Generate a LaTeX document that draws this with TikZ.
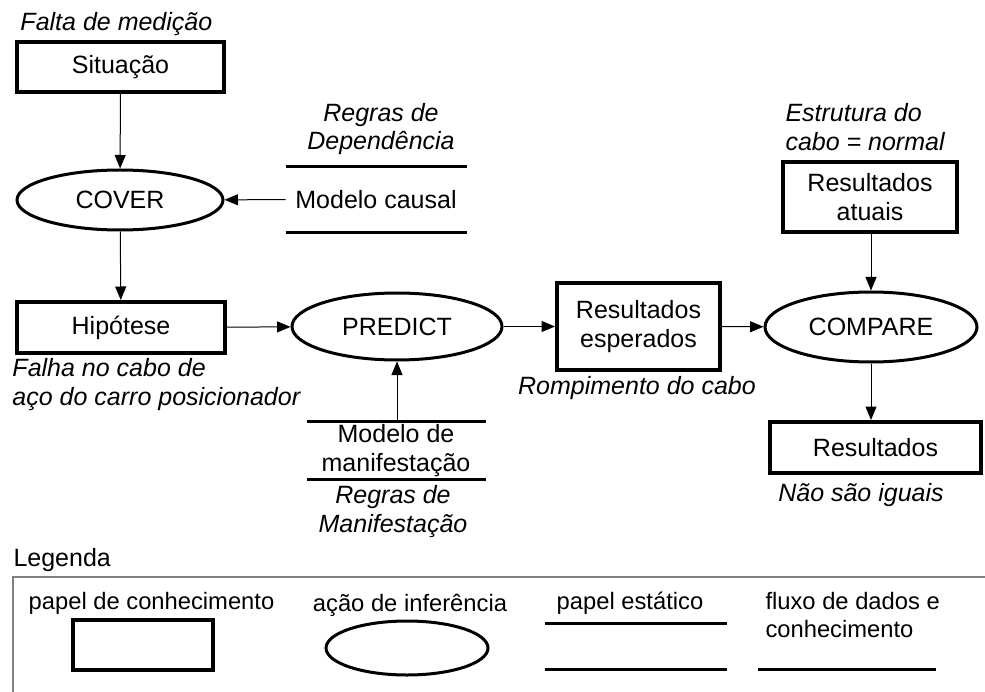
\documentclass[tikz,border=0pt]{standalone}
\usepackage{fontspec}
\setmainfont{Liberation Sans}
\usetikzlibrary{positioning,shapes.geometric,arrows.meta}

\begin{document}
\begin{tikzpicture}[
  x=0.4pt, y=-0.4pt,
  font=\fontsize{10}{11.4}\selectfont,
  rolestyle/.style={
        draw,
        rectangle,
        line width=1.6pt,
        inner sep=0pt,
        align=center
  },
  actionstyle/.style={
        draw,
        ellipse,
        line width=1.2pt,
        inner sep=0pt
  },
  staticstyle/.style={inner sep=0pt, align=center},
  notestyle/.style={font=\fontsize{10}{11.4}\selectfont\itshape, inner sep=0pt},
  legendstyle/.style={font=\fontsize{9.5}{11}\selectfont, inner sep=0pt},
  staticline/.style={line width=1.2pt},
  flow/.style={line width=0.4pt, -{Triangle[length=5.4pt, width=4.4pt]}}
]

    \useasboundingbox (0,0) rectangle (985,692);

    \node[rolestyle, minimum width=82.8pt, minimum height=20pt] (sit) at (120.5,67) {Situação};
    \node[notestyle, anchor=west] at (20,24) {Falta de medição};

    \node[actionstyle, minimum width=82.4pt, minimum height=24pt] (cover) at (120,200) {COVER};

    \node[rolestyle, minimum width=83.2pt, minimum height=20.4pt] (hip) at (121,327.5) {Hipótese};
    \node[notestyle, align=left, anchor=west] at (12,384.5) {Falha no cabo de\\aço do carro posicionador};

    \node[staticstyle, minimum width=72pt, minimum height=26pt] (causal) at (376,199.5) {Modelo causal};
    \node[notestyle, align=center] at (381,129) {Regras de\\Dependência};

    \node[actionstyle, minimum width=84pt, minimum height=26.8pt] (predict) at (397,326.5) {PREDICT};

    \node[staticstyle, minimum width=71.2pt, minimum height=22.8pt] (manif) at (396,450.5) {Modelo de\\manifestação};
    \node[notestyle, align=center] at (393,511.5) {Regras de\\Manifestação};

    \node[rolestyle, minimum width=65.2pt, minimum height=34.8pt] (esp) at (638.5,326.5) {Resultados\\esperados};
    \node[notestyle] at (637,388) {Rompimento do cabo};

    \node[actionstyle, minimum width=84.8pt, minimum height=28pt] (compare) at (871,327) {COMPARE};

    \node[rolestyle, minimum width=69.6pt, minimum height=28pt] (atu) at (870,197) {Resultados\\atuais};
    \node[notestyle, align=left, anchor=west] at (785,127) {Estrutura do\\cabo = normal};

    \node[rolestyle, minimum width=84.4pt, minimum height=20.4pt] (res) at (875.5,447.5) {Resultados};
    \node[notestyle] at (861,495) {Não são iguais};

    \draw[staticline] (causal.north west) -- (causal.north east);
    \draw[staticline] (causal.south west) -- (causal.south east);
    \draw[staticline] (manif.north west) -- (manif.north east);
    \draw[staticline] (manif.south west) -- (manif.south east);

    \draw[flow] (sit) -- (cover);
    \draw[flow] (causal) -- (cover);
    \draw[flow] (cover) -- (hip);
    \draw[flow] (hip) -- (predict);
    \draw[flow] (manif.north -| predict.south) -- (predict.south);
    \draw[flow] (predict) -- (esp);
    \draw[flow] (esp) -- (compare);
    \draw[flow] (atu.south -| compare.north) -- (compare.north);
    \draw[flow] (compare.south) -- (compare.south |- res.north);

    \node[anchor=west, inner sep=0pt] (legenda) at (13,560) {Legenda};
    \draw[gray, line width=0.8pt] (13,692) -- (13,577) -- (985,577);

    \node[legendstyle] (t1) at (151.5,603) {papel de conhecimento};
    \node[rolestyle, minimum width=56pt, minimum height=20pt] (k1) at (143,645) {};

    \node[legendstyle] (t2) at (410,605) {ação de inferência};
    \node[actionstyle, minimum width=64.8pt, minimum height=21.6pt] (k2) at (407,648) {};

    \node[legendstyle] (t3) at (630,603) {papel estático};
    \node[staticstyle, minimum width=72.4pt, minimum height=18pt] (k3) at (635.5,646.5) {};
    \draw[staticline] (k3.north west) -- (k3.north east);
    \draw[staticline] (k3.south west) -- (k3.south east);

    \node[legendstyle, align=left, anchor=west] (t4) at (765,615) {fluxo de dados e\\conhecimento};
    \coordinate (k4a) at (758,669);
    \coordinate (k4b) at (936,669);
    \draw[staticline] (k4a) -- (k4b);
\end{tikzpicture}
\end{document}
